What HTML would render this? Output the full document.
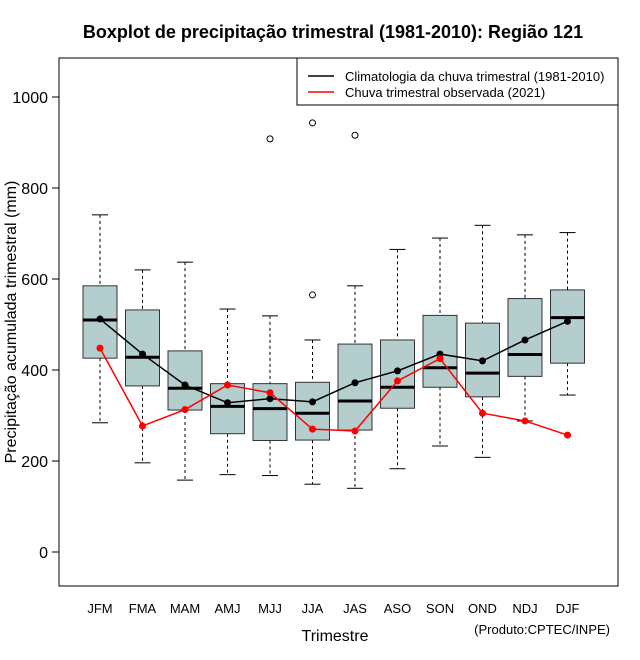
<!DOCTYPE html>
<html><head><meta charset="utf-8"><style>body{margin:0;background:#fff}svg{display:block;font-family:"Liberation Sans",sans-serif}</style></head>
<body>
<svg id="chart" width="640" height="660"></svg>
<script>
const categories=["JFM","FMA","MAM","AMJ","MJJ","JJA","JAS","ASO","SON","OND","NDJ","DJF"];
const whiskerHigh=[741,620,637,534,519,466,585,665,690,718,697,702];
const q3=[585,532,442,370,370,373,457,466,520,503,557,576];
const medians=[510,428,360,320,315,305,332,362,405,393,434,515];
const q1=[426,365,312,260,245,246,268,316,362,341,386,415];
const whiskerLow=[284,196,158,170,168,149,140,183,233,208,288,345];
const outlierCat=[4,5,5,6];
const outlierVal=[908,943,565,916];
const climatology=[512,435,367,328,337,330,372,398,435,420,466,507];
const observed=[448,277,313,367,350,270,266,376,425,305,288,257];
const yTicks=[0,200,400,600,800,1000];

const NS="http://www.w3.org/2000/svg",svg=document.getElementById('chart');
const y=v=>552-v*0.455, x=i=>100+i*42.5;
function el(t,a,txt){const e=document.createElementNS(NS,t);for(const k in a)e.setAttribute(k,a[k]);if(txt!=null)e.textContent=txt;svg.appendChild(e);return e;}
let e;
e=el('rect',{x:59,y:58,width:559,height:528,fill:'none',stroke:'#000'});

e=el('text',{x:333,y:38,'text-anchor':'middle','font-size':18,'font-weight':'bold'},'Boxplot de precipitação trimestral (1981-2010): Região 121');

yTicks.forEach(t=>{
 e=el('line',{x1:52,x2:59,y1:y(t),y2:y(t),stroke:'#000'});
 
 e=el('text',{x:48,y:y(t)+6,'text-anchor':'end','font-size':16},t);
 
});
e=el('text',{x:16,y:322,'text-anchor':'middle','font-size':16,transform:'rotate(-90 16 322)'},'Precipitação acumulada trimestral (mm)');

e=el('text',{x:335,y:641,'text-anchor':'middle','font-size':16},'Trimestre');

e=el('text',{x:610,y:634,'text-anchor':'end','font-size':13},'(Produto:CPTEC/INPE)');

categories.forEach((c,i)=>{
 const cx=x(i),w=17;
 e=el('text',{x:cx,y:613,'text-anchor':'middle','font-size':13},c);
 
 e=el('line',{x1:cx,x2:cx,y1:y(whiskerHigh[i]),y2:y(q3[i]),stroke:'#000','stroke-dasharray':'3,3'});
 
 e=el('line',{x1:cx,x2:cx,y1:y(q1[i]),y2:y(whiskerLow[i]),stroke:'#000','stroke-dasharray':'3,3'});
 
 [whiskerHigh[i],whiskerLow[i]].forEach(v=>{
  e=el('line',{x1:cx-8,x2:cx+8,y1:y(v),y2:y(v),stroke:'#000'});
  
 });
 e=el('rect',{x:cx-w,y:y(q3[i]),width:2*w,height:y(q1[i])-y(q3[i]),fill:'#b4cdcd',stroke:'#333'});
 
 e=el('line',{x1:cx-w,x2:cx+w,y1:y(medians[i]),y2:y(medians[i]),stroke:'#000','stroke-width':3});
 
});
outlierCat.forEach((ci,k)=>{
 e=el('circle',{cx:x(ci),cy:y(outlierVal[k]),r:3,fill:'none',stroke:'#000'});
 
});
function series(vals,col,name){
 e=el('polyline',{points:vals.map((v,i)=>x(i)+','+y(v)).join(' '),fill:'none',stroke:col,'stroke-width':1.5});
 
 vals.forEach((v,i)=>{
  e=el('circle',{cx:x(i),cy:y(v),r:3.5,fill:col});
  
 });
}
series(climatology,'#000','climatology');
series(observed,'#f00','observed');
e=el('rect',{x:297,y:58,width:321,height:47,fill:'#fff',stroke:'#000'});

[['#000','Climatologia da chuva trimestral (1981-2010)',76],['#f00','Chuva trimestral observada (2021)',92]].forEach(([c,t,yy])=>{
 e=el('line',{x1:308,x2:334,y1:yy,y2:yy,stroke:c,'stroke-width':1.5});
 
 e=el('text',{x:345,y:yy+5,'font-size':13},t);
 
});
</script>
</body></html>
